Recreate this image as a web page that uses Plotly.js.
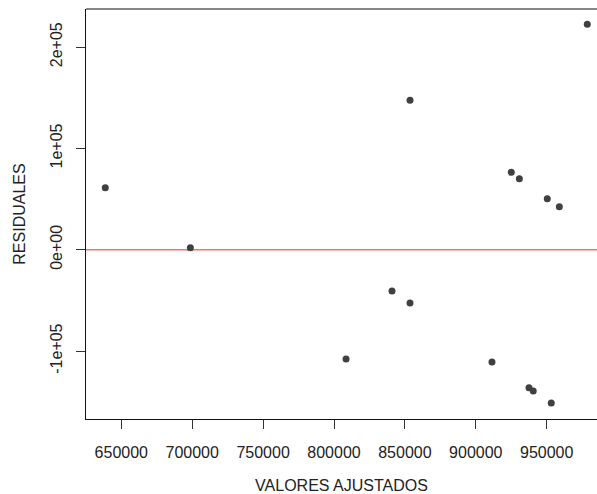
<!DOCTYPE html>
<html>
<head>
<meta charset="utf-8">
<script src="https://cdn.plot.ly/plotly-3.0.1.min.js"></script>
<style>html,body{margin:0;padding:0;background:#fff;}#chart{width:597px;height:494px;}</style>
</head>
<body>
<div id="chart"></div>
<script>
const fittedValues = [638700, 698700, 978600, 853600, 925000, 930700, 950400, 958900, 808500, 840900, 853600, 911400, 937500, 940500, 953200];
const residuals = [61200, 2000, 222500, 147500, 76400, 70100, 50300, 42400, -107900, -40800, -52600, -110900, -136200, -139500, -151300];
const xTickVals = [650000, 700000, 750000, 800000, 850000, 900000, 950000];
const xTickText = ["650000", "700000", "750000", "800000", "850000", "900000", "950000"];
const yTickVals = [-100000, 0, 100000, 200000];
const yTickText = ["-1e+05", "0e+00", "1e+05", "2e+05"];
const refLine = 0;

const fontFam = "Liberation Sans, Arial, sans-serif";

const trace = {
  x: fittedValues,
  y: residuals,
  type: "scatter",
  mode: "markers",
  marker: {color: "#404040", size: 7},
  hoverinfo: "x+y",
  showlegend: false
};

const layout = {
  width: 597,
  height: 494,
  margin: {l: 86, r: 0, t: 9, b: 75},
  paper_bgcolor: "#ffffff",
  plot_bgcolor: "#ffffff",
  font: {family: fontFam, size: 16, color: "#222"},
  xaxis: {
    range: [625106, 985464],
    tickvals: xTickVals,
    ticktext: xTickText,
    ticks: "outside",
    ticklen: 9,
    tickwidth: 1,
    tickcolor: "#333",
    showline: true,
    linecolor: "#111",
    linewidth: 1,
    showgrid: false,
    zeroline: false,
    ticklabelstandoff: 10,
    tickfont: {family: fontFam, size: 16, color: "#222"},
    title: {text: "VALORES AJUSTADOS", font: {family: fontFam, size: 16, color: "#222"}, standoff: 22},
    automargin: false
  },
  yaxis: {
    range: [-167134, 237619],
    tickvals: yTickVals,
    ticktext: yTickText,
    tickangle: -90,
    ticks: "outside",
    ticklen: 9,
    tickwidth: 1,
    tickcolor: "#333",
    showline: true,
    linecolor: "#111",
    linewidth: 1,
    showgrid: false,
    zeroline: false,
    ticklabelstandoff: 8,
    tickfont: {family: fontFam, size: 16, color: "#222"},
    title: {text: "RESIDUALES", font: {family: fontFam, size: 16, color: "#222"}, standoff: 17},
    automargin: false
  },
  shapes: [
    {type: "line", xref: "paper", yref: "y", x0: 0, x1: 1, y0: refLine, y1: refLine,
     line: {color: "rgb(250,110,110)", width: 1.5}, layer: "below"},
    {type: "line", xref: "paper", yref: "paper", x0: 0, x1: 1, y0: 1, y1: 1,
     line: {color: "#111", width: 1}}
  ]
};

Plotly.newPlot("chart", [trace], layout, {displayModeBar: false, staticPlot: true});
</script>
</body>
</html>
